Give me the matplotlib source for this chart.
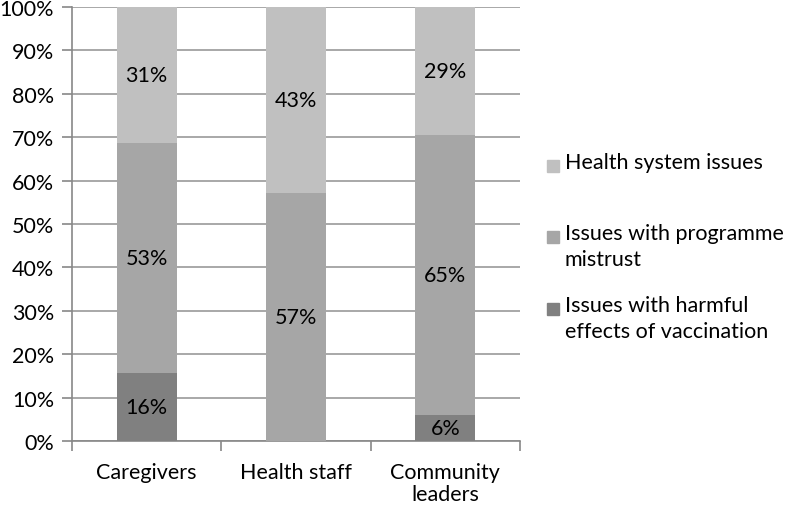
import matplotlib
matplotlib.use("Agg")
import matplotlib.pyplot as plt
from matplotlib.patches import Rectangle
import numpy as np

categories = ["Caregivers", "Health staff", "Community\nleaders"]
harmful = [15.6, 0.0, 5.9]
mistrust = [53.1, 57.1, 64.7]
system = [31.3, 42.9, 29.4]
series_labels = ["Health system issues", "Issues with programme\nmistrust",
                 "Issues with harmful\neffects of vaccination"]
colors = {"system": "#c0c0c0", "mistrust": "#a6a6a6", "harmful": "#808080"}

plt.rcParams['font.family'] = ['Lato', 'DejaVu Sans']
FS = 15.5

fig = plt.figure(figsize=(7.87, 5.10), dpi=100)
W, H = 787, 510
ax = fig.add_axes([72 / W, 1 - 442 / H, (520 - 72) / W, (442 - 8) / H])

x = np.arange(len(categories))
bw = 0.4
h = np.array(harmful)
m = np.array(mistrust)
s = np.array(system)
ax.bar(x, h, bw, color=colors["harmful"], zorder=3)
ax.bar(x, m, bw, bottom=h, color=colors["mistrust"], zorder=3)
ax.bar(x, s, bw, bottom=h + m, color=colors["system"], zorder=3)

for i in range(len(categories)):
    if h[i] > 0:
        ax.text(x[i], h[i] / 2, f"{h[i]:.0f}%", ha="center", va="center", fontsize=FS, zorder=4)
    ax.text(x[i], h[i] + m[i] / 2, f"{m[i]:.0f}%", ha="center", va="center", fontsize=FS, zorder=4)
    ax.text(x[i], h[i] + m[i] + s[i] / 2, f"{s[i]:.0f}%", ha="center", va="center", fontsize=FS, zorder=4)

ax.set_xlim(-0.5, len(categories) - 0.5)
ax.set_ylim(0, 100)
ax.set_yticks(np.arange(0, 101, 10))
ax.set_yticklabels([f"{v}%" for v in range(0, 101, 10)], fontsize=FS)
ax.yaxis.grid(True, color="#999999", linewidth=1.2, zorder=0)
ax.set_axisbelow(True)

ax.set_xticks(x)
ax.set_xticklabels(categories, fontsize=FS, linespacing=1.15)
ax.tick_params(axis="x", length=0, pad=15)
ax.set_xticks([-0.5, 0.5, 1.5, 2.5], minor=True)
ax.tick_params(axis="x", which="minor", length=7, color="#888888", width=1.2)
ax.tick_params(axis="y", length=7, color="#888888", width=1.2, pad=6)

for side in ["top", "right"]:
    ax.spines[side].set_visible(False)
for side in ["left", "bottom"]:
    ax.spines[side].set_color("#888888")
    ax.spines[side].set_linewidth(1.2)

# legend (manual, Excel style: marker aligned with first line)
leg_colors = [colors["system"], colors["mistrust"], colors["harmful"]]
leg_y = [167, 238, 310]
for lab, c, yy in zip(series_labels, leg_colors, leg_y):
    fig.patches.append(Rectangle(((547) / W, 1 - (yy + 6) / H), 12 / W, 12 / H,
                                 transform=fig.transFigure, color=c))
    fig.text(565 / W, 1 - (yy - 14) / H, lab, ha="left", va="top", fontsize=FS,
             linespacing=1.35)

fig.savefig("out.png", dpi=100)
